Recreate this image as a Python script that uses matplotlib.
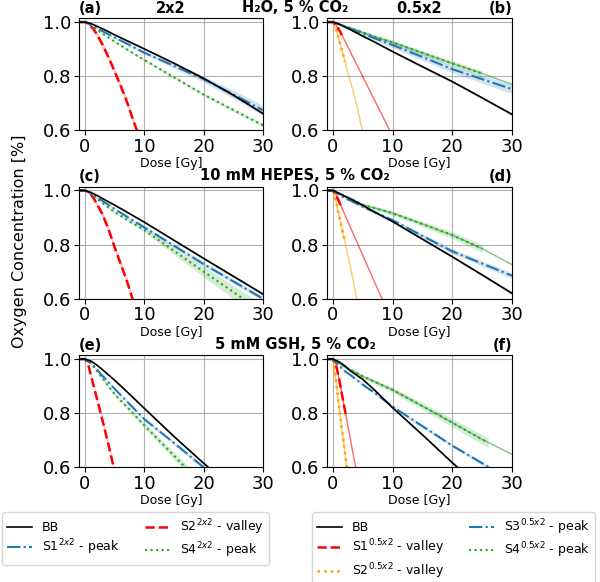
import matplotlib.pyplot as plt
from matplotlib.lines import Line2D
import numpy as np

# dose grids [Gy]
DOSE = [-1, 0, 1, 2, 3, 5, 7, 10, 15, 20, 25, 30]
DOSE_FAST = [-1, 0, 0.5, 1, 1.5, 2, 3, 4, 5, 6, 7, 8, 9, 10]

# shared band half widths
BB_ERR = [0, 0, 0.001, 0.001, 0.002, 0.002, 0.003, 0.003, 0.004, 0.004, 0.005, 0.005]
FAST_ERR = [0, 0, 0.004, 0.006, 0.008, 0.01, 0.012, 0.012, 0.012, 0.012, 0.012, 0.012, 0.012, 0.012]

# (a) 2x2, H2O
a_bb = [1, 1, 0.995, 0.985, 0.975, 0.953, 0.932, 0.901, 0.848, 0.792, 0.73, 0.662]
a_s1 = [1, 1, 0.99, 0.978, 0.966, 0.943, 0.921, 0.887, 0.838, 0.789, 0.733, 0.674]
a_s1_err = [0, 0, 0.002, 0.003, 0.003, 0.004, 0.005, 0.006, 0.008, 0.011, 0.015, 0.018]
a_s4 = [1, 1, 0.988, 0.972, 0.957, 0.928, 0.9, 0.86, 0.796, 0.732, 0.675, 0.619]
a_s4_err = [0, 0, 0.002, 0.002, 0.003, 0.003, 0.004, 0.004, 0.005, 0.005, 0.006, 0.006]
a_s2 = [1, 1, 0.995, 0.985, 0.972, 0.955, 0.915, 0.868, 0.818, 0.765, 0.71, 0.645, 0.585, 0.53]

# (c) 2x2, HEPES
c_bb = [1, 1, 0.993, 0.982, 0.97, 0.946, 0.921, 0.883, 0.816, 0.749, 0.683, 0.617]
c_s1 = [1, 1, 0.99, 0.975, 0.961, 0.932, 0.904, 0.864, 0.796, 0.728, 0.664, 0.6]
c_s1_err = [0, 0, 0.002, 0.002, 0.003, 0.003, 0.004, 0.005, 0.006, 0.007, 0.008, 0.009]
c_s4 = [1, 1, 0.988, 0.97, 0.953, 0.92, 0.893, 0.854, 0.777, 0.7, 0.625, 0.55]
c_s4_err = [0, 0, 0.002, 0.003, 0.003, 0.004, 0.005, 0.007, 0.014, 0.02, 0.025, 0.03]
c_s2 = [1, 1, 0.995, 0.985, 0.97, 0.95, 0.91, 0.855, 0.79, 0.73, 0.67, 0.6, 0.54, 0.48]

# (e) 2x2, GSH
e_bb = [1, 1, 0.993, 0.978, 0.96, 0.922, 0.881, 0.818, 0.714, 0.615, 0.52, 0.42]
e_s1 = [1, 1, 0.985, 0.962, 0.937, 0.89, 0.845, 0.778, 0.69, 0.6, 0.51, 0.42]
e_s1_err = [0, 0, 0.002, 0.002, 0.003, 0.003, 0.004, 0.005, 0.006, 0.007, 0.008, 0.009]
e_s4 = [1, 1, 0.985, 0.957, 0.927, 0.87, 0.825, 0.755, 0.643, 0.53, 0.42, 0.31]
e_s4_err = [0, 0, 0.002, 0.003, 0.004, 0.006, 0.008, 0.01, 0.014, 0.016, 0.018, 0.02]
e_s2 = [1, 1, 0.985, 0.94, 0.898, 0.855, 0.77, 0.68, 0.585, 0.49, 0.4, 0.31, 0.22, 0.13]

# (b) 0.5x2, H2O
b_bb = [1, 1, 0.993, 0.982, 0.971, 0.948, 0.926, 0.891, 0.835, 0.78, 0.72, 0.659]
b_s3 = [1, 1, 0.992, 0.983, 0.975, 0.957, 0.94, 0.915, 0.871, 0.826, 0.789, 0.752]
b_s3_err = [0, 0, 0.003, 0.004, 0.005, 0.006, 0.008, 0.01, 0.012, 0.013, 0.015, 0.017]
b_s4 = [1, 1, 0.993, 0.985, 0.978, 0.962, 0.946, 0.925, 0.886, 0.847, 0.81, 0.77]
b_s4_err = [0, 0, 0.003, 0.004, 0.005, 0.006, 0.007, 0.008, 0.009, 0.01, 0.01, 0.01]
b_s1 = [1, 1, 0.99, 0.972, 0.952, 0.93, 0.886, 0.842, 0.798, 0.754, 0.71, 0.666, 0.622, 0.578]
b_s2 = [1, 1, 0.975, 0.935, 0.895, 0.855, 0.775, 0.69, 0.592, 0.51, 0.43, 0.35, 0.27, 0.19]

# (d) 0.5x2, HEPES
d_bb = [1, 1, 0.99, 0.979, 0.968, 0.945, 0.92, 0.885, 0.82, 0.755, 0.688, 0.62]
d_s3 = [1, 1, 0.985, 0.972, 0.962, 0.94, 0.92, 0.89, 0.832, 0.775, 0.73, 0.685]
d_s3_err = [0, 0, 0.003, 0.004, 0.004, 0.005, 0.006, 0.007, 0.008, 0.009, 0.01, 0.011]
d_s4 = [1, 1, 0.988, 0.978, 0.97, 0.947, 0.935, 0.916, 0.876, 0.835, 0.785, 0.726]
d_s4_err = [0, 0, 0.003, 0.004, 0.005, 0.006, 0.007, 0.008, 0.01, 0.012, 0.014, 0.014]
d_s1 = [1, 1, 0.985, 0.96, 0.935, 0.91, 0.86, 0.81, 0.76, 0.71, 0.66, 0.61, 0.56, 0.51]
d_s2 = [1, 1, 0.96, 0.91, 0.86, 0.81, 0.71, 0.6, 0.5, 0.4, 0.3, 0.2, 0.1, 0.0]

# (f) 0.5x2, GSH
f_bb = [1, 1, 0.99, 0.975, 0.955, 0.925, 0.885, 0.82, 0.72, 0.617, 0.52, 0.42]
f_s3 = [1, 1, 0.975, 0.955, 0.94, 0.905, 0.875, 0.824, 0.752, 0.68, 0.615, 0.55]
f_s3_err = [0, 0, 0.002, 0.003, 0.003, 0.004, 0.004, 0.005, 0.006, 0.006, 0.007, 0.007]
f_s4 = [1, 1, 0.985, 0.97, 0.96, 0.936, 0.916, 0.886, 0.826, 0.765, 0.703, 0.648]
f_s4_err = [0, 0, 0.003, 0.004, 0.005, 0.007, 0.008, 0.01, 0.012, 0.015, 0.018, 0.02]
f_s1 = [1, 1, 0.98, 0.93, 0.87, 0.812, 0.694, 0.576, 0.458, 0.34, 0.22, 0.1, 0.0, -0.1]
f_s2 = [1, 1, 0.92, 0.83, 0.74, 0.655, 0.48, 0.3, 0.13, 0.0, -0.1, -0.2, -0.3, -0.4]

# end of measured range (right column), the rest is a thin extrapolation
b_meas = {'s1': 1.5, 's2': 2.0, 's4': 25}
d_meas = {'s1': 1.5, 's2': 2.0, 's4': 25}
f_meas = {'s1': 2.2, 's2': 2.5, 's4': 26}

BLUE = '#1f77b4'
GREEN = '#2ca02c'
RED = '#ff0000'
ORANGE = '#ffa500'


def draw(ax, x, y, err, color, ls, lw, meas_end=None, band_alpha=0.2):
	x = np.asarray(x, float)
	y = np.asarray(y, float)
	err = np.asarray(err, float)
	if meas_end is not None:
		ax.plot(x, y, color=color, lw=1.0, alpha=0.6, ls='-')
		m = x < meas_end
		xm = np.append(x[m], meas_end)
		ym = np.append(y[m], np.interp(meas_end, x, y))
		em = np.append(err[m], np.interp(meas_end, x, err))
		x, y, err = xm, ym, em
	ax.fill_between(x, y - err, y + err, color=color, alpha=band_alpha, lw=0)
	ax.plot(x, y, color=color, ls=ls, lw=lw)


W, H = 600, 582
fig = plt.figure(figsize=(W / 100, H / 100), dpi=100)

col_x = [79 / W, 327 / W]
col_w = [184 / W, 185 / W]
row_top = [18.3, 186.7, 355.3]
ax_h = 112 / H

axes = {}
names = [['a', 'b'], ['c', 'd'], ['e', 'f']]
for r in range(3):
	for c in range(2):
		ax = fig.add_axes([col_x[c], 1 - (row_top[r] + 112) / H, col_w[c], ax_h])
		axes[names[r][c]] = ax

left = [('a', a_bb, a_s1, a_s1_err, a_s4, a_s4_err, a_s2),
		('c', c_bb, c_s1, c_s1_err, c_s4, c_s4_err, c_s2),
		('e', e_bb, e_s1, e_s1_err, e_s4, e_s4_err, e_s2)]
for key, bb, s1, s1e, s4, s4e, s2 in left:
	ax = axes[key]
	draw(ax, DOSE_FAST, s2, FAST_ERR, RED, '--', 1.8)
	draw(ax, DOSE, s4, s4e, GREEN, ':', 1.5)
	draw(ax, DOSE, s1, s1e, BLUE, '-.', 1.5)
	draw(ax, DOSE, bb, BB_ERR, 'k', '-', 1.2)

right = [('b', b_bb, b_s3, b_s3_err, b_s4, b_s4_err, b_s1, b_s2, b_meas),
		 ('d', d_bb, d_s3, d_s3_err, d_s4, d_s4_err, d_s1, d_s2, d_meas),
		 ('f', f_bb, f_s3, f_s3_err, f_s4, f_s4_err, f_s1, f_s2, f_meas)]
for key, bb, s3, s3e, s4, s4e, s1, s2, meas in right:
	ax = axes[key]
	draw(ax, DOSE_FAST, s2, FAST_ERR, ORANGE, ':', 1.8, meas['s2'], 0.1)
	draw(ax, DOSE_FAST, s1, FAST_ERR, RED, '--', 1.8, meas['s1'], 0.1)
	draw(ax, DOSE, s4, s4e, GREEN, ':', 1.5, meas['s4'])
	draw(ax, DOSE, s3, s3e, BLUE, '-.', 1.5)
	draw(ax, DOSE, bb, BB_ERR, 'k', '-', 1.2)

for key, ax in axes.items():
	ax.set_xlim(-1, 30)
	ax.set_ylim(0.6, 1.014)
	ax.set_xticks([0, 10, 20, 30])
	ax.set_yticks([0.6, 0.8, 1.0])
	ax.grid(True, color='#b0b0b0', lw=0.8)
	ax.set_axisbelow(True)
	ax.tick_params(labelsize=13, pad=2)
	ax.set_xlabel('Dose [Gy]', fontsize=9, labelpad=1)
	ax.set_title('(%s)' % key, loc='left' if key in 'ace' else 'right',
				 fontsize=10.5, fontweight='bold', pad=4)

axes['a'].set_title('2x2', fontsize=10.5, fontweight='bold', pad=4)
axes['b'].set_title('0.5x2', fontsize=10.5, fontweight='bold', pad=4)

row_titles = ['H\u2082O, 5 % CO\u2082', '10 mM HEPES, 5 % CO\u2082', '5 mM GSH, 5 % CO\u2082']
mid_x = ((79 + 263) / 2 + (327 + 512) / 2) / 2 / W
for r, t in enumerate(row_titles):
	fig.text(mid_x, 1 - (row_top[r] - 6.5) / H, t, ha='center', va='baseline',
			 fontsize=10.5, fontweight='bold')

fig.text(0.033, 1 - 241 / H, 'Oxygen Concentration [%]', rotation=90,
		 ha='center', va='center', fontsize=11.5)


def handle(color, ls, lw):
	return Line2D([], [], color=color, ls=ls, lw=lw)


left_handles = [handle('k', '-', 1.2), handle(BLUE, '-.', 1.5),
				handle(RED, '--', 1.8), handle(GREEN, ':', 1.5)]
left_labels = ['BB', 'S1$^{\\mathit{2x2}}$ - peak', 'S2$^{\\mathit{2x2}}$ - valley',
			   'S4$^{\\mathit{2x2}}$ - peak']
fig.legend(left_handles, left_labels, ncol=2, loc='upper left',
		   bbox_to_anchor=(2 / W, 1 - 512 / H), fontsize=9, columnspacing=2.0,
		   labelspacing=0.3, borderaxespad=0)

right_handles = [handle('k', '-', 1.2), handle(RED, '--', 1.8), handle(ORANGE, ':', 1.8),
				 handle(BLUE, '-.', 1.5), handle(GREEN, ':', 1.5)]
right_labels = ['BB', 'S1$^{\\mathit{0.5x2}}$ - valley', 'S2$^{\\mathit{0.5x2}}$ - valley',
				'S3$^{\\mathit{0.5x2}}$ - peak', 'S4$^{\\mathit{0.5x2}}$ - peak']
fig.legend(right_handles, right_labels, ncol=2, loc='upper left',
		   bbox_to_anchor=(312 / W, 1 - 512 / H), fontsize=9, columnspacing=2.0,
		   labelspacing=0.3, borderaxespad=0)

fig.savefig('out.png', dpi=100)
